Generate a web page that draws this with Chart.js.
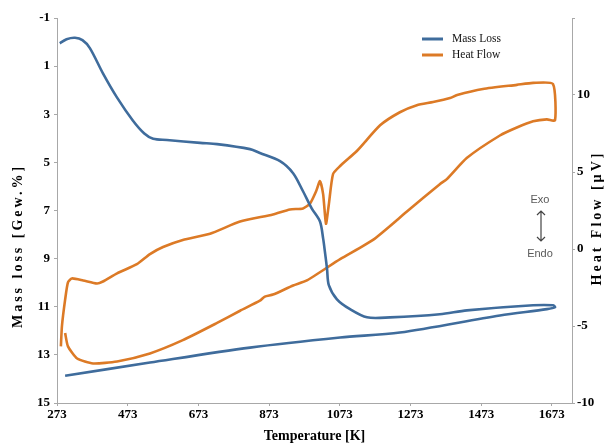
<!DOCTYPE html>
<html>
<head>
<meta charset="utf-8">
<script src="https://cdn.jsdelivr.net/npm/chart.js@4"></script>
<style>
  html, body { margin: 0; padding: 0; background: #fff; }
  #wrap { width: 605px; height: 445px; }
</style>
</head>
<body>
<div id="wrap"><canvas id="chart"></canvas></div>
<script>
const tempTicks = [273, 473, 673, 873, 1073, 1273, 1473, 1673]

// mass loss loop: heating then cooling
const massTemp = [281, 300, 324, 345, 366, 403, 443, 488, 520, 545, 584, 678, 726, 819, 847, 904, 941, 969, 994, 1017, 1026, 1031, 1037,
    1042, 1065, 1102, 1150, 1215, 1356, 1433, 1620, 1676, 1682, 1659, 1526, 1243, 1074, 819, 536, 296]
const massValue = [0.05, -0.12, -0.18, -0.08, 0.25, 1.30, 2.31, 3.27, 3.80, 4.02, 4.07, 4.19, 4.24, 4.45, 4.61, 4.95, 5.45, 6.20, 6.92, 7.46, 8.17, 8.72, 9.43,
    10.10, 10.69, 11.10, 11.44, 11.44, 11.31, 11.15, 10.94, 10.94, 11.02, 11.10, 11.36, 12.07, 12.28, 12.70, 13.32, 13.87]

// heat flow loop: heating then cooling
const heatTemp = [284, 287, 296, 304, 315, 347, 386, 403, 443, 499, 536, 573, 629, 706, 791, 884, 932, 969, 989, 1006,
    1017, 1026, 1034, 1042, 1054, 1074, 1122, 1187, 1243, 1291, 1337, 1385, 1405, 1478, 1574, 1620, 1676, 1682,
    1659, 1620, 1574, 1526, 1433, 1376, 1356, 1263, 1167, 1074, 980, 941, 884, 861, 847, 791, 726, 629, 536, 443, 375, 330, 304, 296]
const heatValue = [-6.32, -5.0, -3.29, -2.17, -1.91, -2.04, -2.24, -2.11, -1.58, -0.99, -0.33, 0.13, 0.59, 0.99, 1.78, 2.24, 2.57, 2.63, 2.96, 3.75,
    4.41, 3.55, 1.64, 2.89, 4.87, 5.39, 6.38, 8.03, 8.88, 9.34, 9.54, 9.80, 10.0, 10.39, 10.66, 10.79, 10.72, 8.36,
    8.42, 8.29, 7.89, 7.37, 5.92, 4.54, 4.21, 2.43, 0.59, -0.66, -2.04, -2.37, -2.96, -3.09, -3.36, -4.01, -4.80, -5.92, -6.78, -7.30, -7.43, -7.11, -6.32, -5.46]

const blue = '#3f6c9c'
const orange = '#dc7a26'
const axisColor = '#a8a8a8'
const serif = '"Liberation Serif", "Times New Roman", serif'

function toPoints(xs, ys) {
    return xs.map((x, i) => ({x: x, y: ys[i]}))
}

// legend, y titles and Exo/Endo note drawn on top
const extras = {
    id: 'extras',
    afterDraw(chart) {
        const ctx = chart.ctx
        ctx.save()
        chart.data.datasets.forEach((ds, i) => {
            const y = 39 + i * 16
            ctx.strokeStyle = ds.borderColor
            ctx.lineWidth = 3
            ctx.beginPath()
            ctx.moveTo(422, y)
            ctx.lineTo(443, y)
            ctx.stroke()
            ctx.fillStyle = '#111'
            ctx.font = '11.5px ' + serif
            ctx.textBaseline = 'middle'
            ctx.textAlign = 'left'
            ctx.fillText(ds.label, 452, y)
        })

        ctx.fillStyle = '#000'
        ctx.font = 'bold 14px ' + serif
        ctx.textAlign = 'center'
        ctx.textBaseline = 'middle'
        ctx.letterSpacing = '3px'
        ctx.save()
        ctx.translate(18, 246)
        ctx.rotate(-Math.PI / 2)
        ctx.fillText('Mass loss [Gew.%]', 0, 0)
        ctx.restore()
        ctx.save()
        ctx.translate(597, 218)
        ctx.rotate(-Math.PI / 2)
        ctx.fillText('Heat Flow [µV]', 0, 0)
        ctx.restore()
        ctx.letterSpacing = '0px'

        ctx.fillStyle = '#595959'
        ctx.font = '11px "Liberation Sans", Arial, sans-serif'
        ctx.fillText('Exo', 540, 200)
        ctx.fillText('Endo', 540, 254)
        ctx.strokeStyle = '#444'
        ctx.lineWidth = 1.2
        ctx.beginPath()
        ctx.moveTo(541, 211); ctx.lineTo(541, 241)
        ctx.moveTo(537, 215); ctx.lineTo(541, 211); ctx.lineTo(545, 215)
        ctx.moveTo(537, 237); ctx.lineTo(541, 241); ctx.lineTo(545, 237)
        ctx.stroke()
        ctx.restore()
    }
}

const gridOpts = {drawOnChartArea: false, drawTicks: true, tickLength: 3, color: axisColor}
const tickFont = {family: serif, size: 13, weight: 'bold'}

new Chart('chart', {
    type: 'scatter',
    data: {
        datasets: [{
            label: 'Mass Loss',
            data: toPoints(massTemp, massValue),
            yAxisID: 'yMass',
            showLine: true,
            borderColor: blue,
            backgroundColor: blue,
            borderWidth: 2.6,
            pointRadius: 0,
            tension: 0.3
        }, {
            label: 'Heat Flow',
            data: toPoints(heatTemp, heatValue),
            yAxisID: 'yHeat',
            showLine: true,
            borderColor: orange,
            backgroundColor: orange,
            borderWidth: 2.6,
            pointRadius: 0,
            tension: 0.2
        }]
    },
    options: {
        responsive: true,
        maintainAspectRatio: false,
        animation: false,
        devicePixelRatio: 1,
        layout: {padding: {top: 18, left: 0, right: 0, bottom: 0}},
        plugins: {
            legend: {display: false},
            tooltip: {enabled: false}
        },
        scales: {
            x: {
                type: 'linear',
                min: 273,
                max: 1730,
                afterBuildTicks: axis => { axis.ticks = tempTicks.map(v => ({value: v})) },
                afterFit: s => { s.height = 42 },
                ticks: {font: tickFont, color: '#000', padding: 1, maxRotation: 0, autoSkip: false,
                    callback: v => String(v)},
                grid: gridOpts,
                border: {color: axisColor},
                title: {display: true, text: 'Temperature [K]', color: '#000', font: {family: serif, size: 14, weight: 'bold'}, padding: 0}
            },
            yMass: {
                position: 'left',
                reverse: true,
                min: -1,
                max: 15,
                afterFit: s => { s.width = 57 },
                ticks: {stepSize: 2, font: tickFont, color: '#000', padding: 4},
                grid: gridOpts,
                border: {color: axisColor}
            },
            yHeat: {
                position: 'right',
                min: -10,
                max: 15,
                afterFit: s => { s.width = 33 },
                ticks: {stepSize: 5, font: tickFont, color: '#000', padding: 2,
                    callback: v => v === 15 ? '' : v},
                grid: gridOpts,
                border: {color: axisColor}
            }
        }
    },
    plugins: [extras]
})
</script>
</body>
</html>
